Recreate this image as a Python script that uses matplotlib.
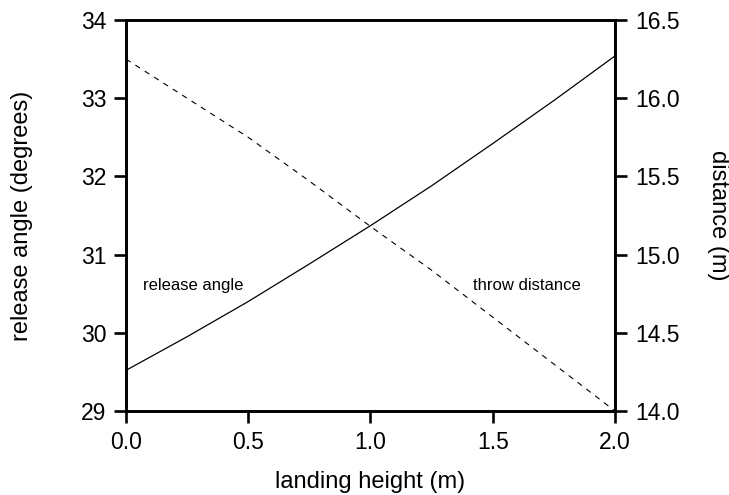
import numpy as np
import matplotlib.pyplot as plt

plt.rcParams['font.family'] = ['Liberation Sans', 'DejaVu Sans']

# landing height (m)
height = [0.0, 0.25, 0.5, 0.75, 1.0, 1.25, 1.5, 1.75, 2.0]
# optimum release angle (degrees), left axis
release_angle = [29.52, 29.95, 30.40, 30.88, 31.37, 31.88, 32.42, 32.97, 33.54]
# throw distance (m), right axis
throw_distance = [16.25, 16.00, 15.75, 15.47, 15.18, 14.90, 14.60, 14.30, 14.00]

fig = plt.figure(figsize=(7.29, 4.95), dpi=100)
ax = fig.add_axes([0.1728, 0.1697, 0.6708, 0.7899])
ax2 = ax.twinx()

ax.plot(height, release_angle, color='black', lw=0.9)
ax2.plot(height, throw_distance, color='black', lw=0.8, dashes=(5, 5))

ax.set_xlim(0, 2)
ax.set_ylim(29, 34)
ax2.set_ylim(14.0, 16.5)
ax.set_xticks(np.arange(0, 2.01, 0.5))
ax.set_xticklabels(['0.0', '0.5', '1.0', '1.5', '2.0'])
ax.set_yticks(range(29, 35))
ax2.set_yticks([14.0, 14.5, 15.0, 15.5, 16.0, 16.5])
ax2.set_yticklabels(['14.0', '14.5', '15.0', '15.5', '16.0', '16.5'])

for a in (ax, ax2):
    for s in a.spines.values():
        s.set_linewidth(1.9)
    a.tick_params(direction='out', length=8.3, width=1.9, labelsize=16.5, pad=6)

ax.set_xlabel('landing height (m)', fontsize=17, labelpad=12)
ax.set_ylabel('release angle (degrees)', fontsize=17, labelpad=34)
ax2.set_ylabel('distance (m)', fontsize=17, rotation=270, labelpad=36)

ax.text(0.07, 30.61, 'release angle', fontsize=12, va='center', ha='left')
ax.text(1.42, 30.61, 'throw distance', fontsize=12, va='center', ha='left')

fig.savefig('out.png', dpi=100)
